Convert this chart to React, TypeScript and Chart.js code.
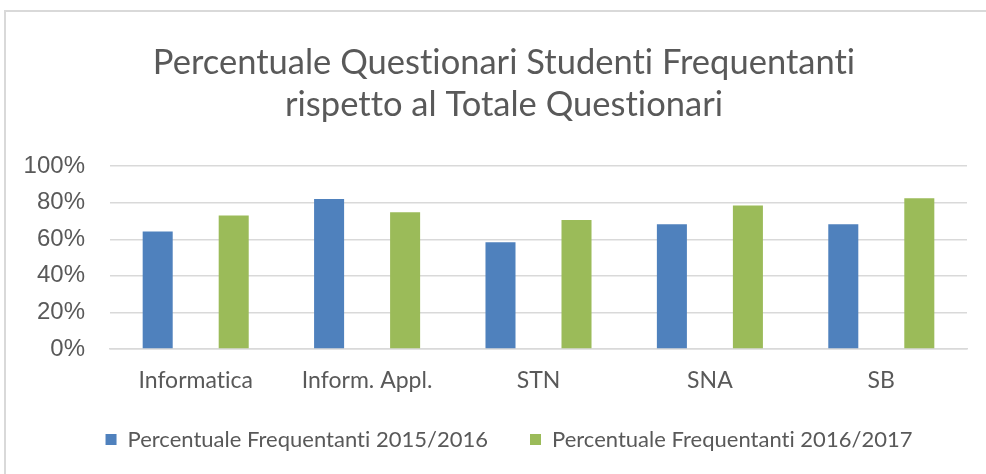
import React, { useEffect, useRef } from "react";
import { Chart, registerables } from "chart.js";

Chart.register(...registerables);

const categories = ["Informatica", "Inform. Appl.", "STN", "SNA", "SB"];
const seriesLabels = ["Percentuale Frequentanti 2015/2016", "Percentuale Frequentanti 2016/2017"];
const values2015 = [64.2, 82.1, 58.4, 68.2, 68.2];
const values2016 = [73.0, 74.8, 70.6, 78.5, 82.5];
const titleLines = ["Percentuale Questionari Studenti Frequentanti", "rispetto al Totale Questionari"];

const noLigatures = (chart: any) => {
  const ctx = chart.ctx as any;
  try {
    ctx.letterSpacing = "0.01px";
    ctx.textRendering = "optimizeSpeed";
  } catch (e) {}
};

const shiftBoxes = {
  id: "shiftBoxes",
  beforeUpdate(chart: any) {
    noLigatures(chart);
  },
  afterLayout(chart: any) {
    if (chart.legend) {
      chart.legend.left += 13;
      chart.legend.right += 13;
      chart.legend.top -= 18;
      chart.legend.bottom -= 18;
    }
    if (chart.titleBlock) {
      chart.titleBlock.left += 8;
      chart.titleBlock.right += 8;
    }
  },
  beforeDraw(chart: any) {
    noLigatures(chart);
  },
};

export default function App() {
  const ref = useRef<HTMLCanvasElement | null>(null);

  useEffect(() => {
    document.body.style.margin = "0";
    let chart: Chart | null = null;
    let cancelled = false;
    const make = () => {
      if (cancelled || !ref.current) return;
      chart = new Chart(ref.current, {
        type: "bar",
        data: {
          labels: categories,
          datasets: [
            {
              label: seriesLabels[0],
              data: values2015,
              backgroundColor: "#4f81bd",
              categoryPercentage: 0.887,
              barPercentage: 0.395,
            },
            {
              label: seriesLabels[1],
              data: values2016,
              backgroundColor: "#9bbb59",
              categoryPercentage: 0.887,
              barPercentage: 0.395,
            },
          ],
        },
        plugins: [shiftBoxes],
        options: {
          responsive: false,
          animation: false,
          layout: { padding: { left: 25, right: 19, top: 0, bottom: -4.5 } },
          plugins: {
            title: {
              display: true,
              text: titleLines,
              color: "#595959",
              font: { family: "Lato", size: 34.5, weight: "normal", lineHeight: 1.22 },
              padding: { top: 42, bottom: 40 },
            },
            legend: {
              position: "bottom",
              labels: {
                color: "#595959",
                font: { family: "Lato", size: 22 },
                boxWidth: 11,
                boxHeight: 11,
                padding: 42,
              },
            },
            tooltip: { enabled: false },
          },
          scales: {
            x: {
              grid: { display: false },
              border: { display: true, color: "#d9d9d9", width: 1.5 },
              ticks: {
                color: "#595959",
                font: { family: "Lato", size: 23, lineHeight: 1.2 },
                padding: 10,
                maxRotation: 0,
              },
            },
            y: {
              min: 0,
              max: 100,
              grid: { color: "#d9d9d9", lineWidth: 1.5, drawTicks: false },
              border: { display: false },
              ticks: {
                stepSize: 20,
                color: "#595959",
                font: { family: "Liberation Sans", size: 24 },
                padding: 25,
                callback: (v: any) => v + "%",
              },
              afterFit: (s: any) => {
                s.width = 85;
              },
            },
          },
        },
      });
    };
    const fonts: any = (document as any).fonts;
    if (fonts && fonts.load) {
      Promise.all([
        fonts.load("22px Lato"),
        fonts.load("24px 'Liberation Sans'"),
      ])
        .catch(() => null)
        .then(make);
    } else {
      make();
    }
    return () => {
      cancelled = true;
      if (chart) chart.destroy();
    };
  }, []);

  return (
    <div style={{ position: "relative", width: 986, height: 474, overflow: "hidden", background: "#fff" }}>
      <div
        style={{
          position: "absolute",
          left: 4,
          top: 10,
          width: 1100,
          height: 600,
          borderLeft: "2px solid #d9d9d9",
          borderTop: "2px solid #d9d9d9",
        }}
      />
      <canvas ref={ref} width={986} height={474} style={{ position: "absolute", left: 0, top: 0 }} />
    </div>
  );
}
